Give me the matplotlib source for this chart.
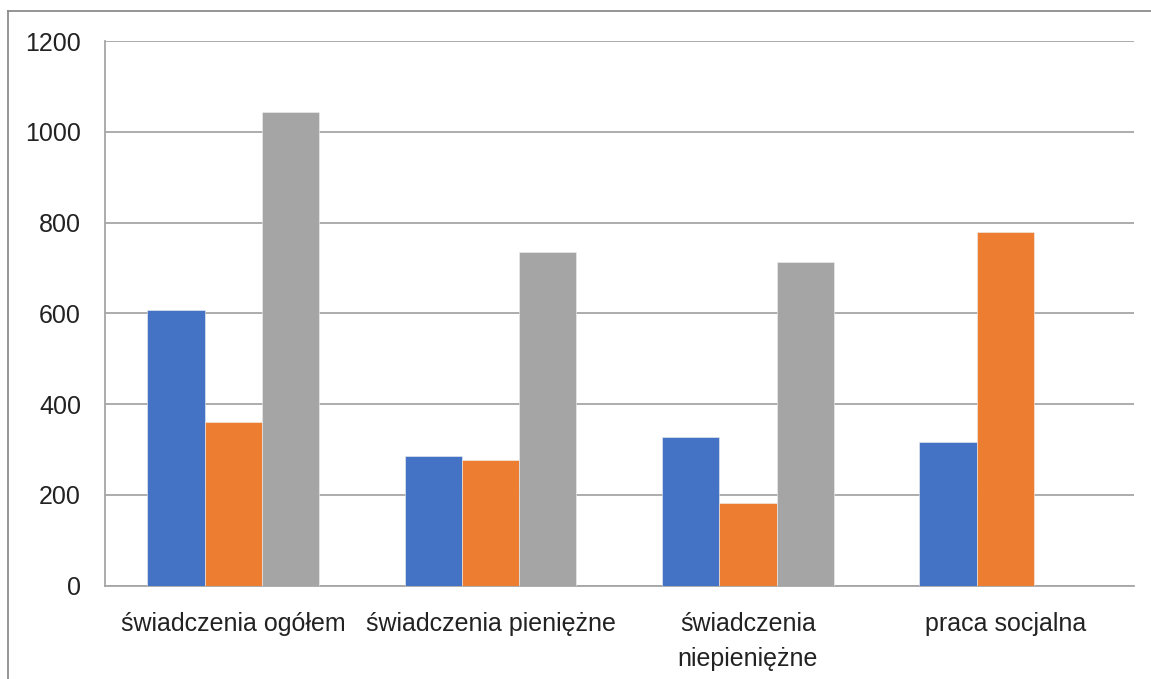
import numpy as np
import matplotlib.pyplot as plt
from matplotlib.lines import Line2D

plt.rcParams['font.family'] = ['Liberation Sans Narrow', 'Liberation Sans', 'DejaVu Sans']

categories = ['świadczenia ogółem', 'świadczenia pieniężne', 'świadczenia\nniepieniężne', 'praca socjalna']
series_blue = [607, 285, 328, 316]
series_orange = [361, 277, 181, 780]
series_gray = [1043, 734, 714, 0]
colors = ['#4472C4', '#ED7D31', '#A5A5A5']
yticks = [0, 200, 400, 600, 800, 1000, 1200]

fig = plt.figure(figsize=(11.51, 6.79), dpi=100)
ax = fig.add_axes([0.0908, 0.1377, 0.8944, 0.8019])

x = np.arange(len(categories))
w = 0.2225
for i, (vals, c) in enumerate(zip([series_blue, series_orange, series_gray], colors)):
    ax.bar(x + (i - 1) * w, vals, width=w, color=c, edgecolor='#f0f0f0', linewidth=0.4, zorder=3)

ax.set_xlim(-0.5, len(categories) - 0.5)
ax.set_ylim(0, 1200)
ax.set_yticks(yticks)
ax.set_yticklabels([str(v) for v in yticks], fontsize=18, color='#222222')
ax.set_xticks(x)
ax.set_xticklabels(categories, fontsize=18, color='#222222', linespacing=1.6)
ax.tick_params(axis='both', length=0)
ax.tick_params(axis='y', pad=17)
ax.tick_params(axis='x', pad=19)

ax.grid(axis='y', color='#A6A6A6', linewidth=1.3, zorder=0)
for s in ['top', 'right']:
    ax.spines[s].set_visible(False)
for s in ['left', 'bottom']:
    ax.spines[s].set_color('#A6A6A6')
    ax.spines[s].set_linewidth(1.3)

# outer chart frame (top and left edges only visible)
fig.add_artist(Line2D([8 / 1151, 8 / 1151], [0, 1 - 11 / 679], color='#8C8C8C', linewidth=1.3, transform=fig.transFigure))
fig.add_artist(Line2D([8 / 1151, 1], [1 - 11 / 679, 1 - 11 / 679], color='#8C8C8C', linewidth=1.3, transform=fig.transFigure))

fig.savefig('out.png', dpi=100)
